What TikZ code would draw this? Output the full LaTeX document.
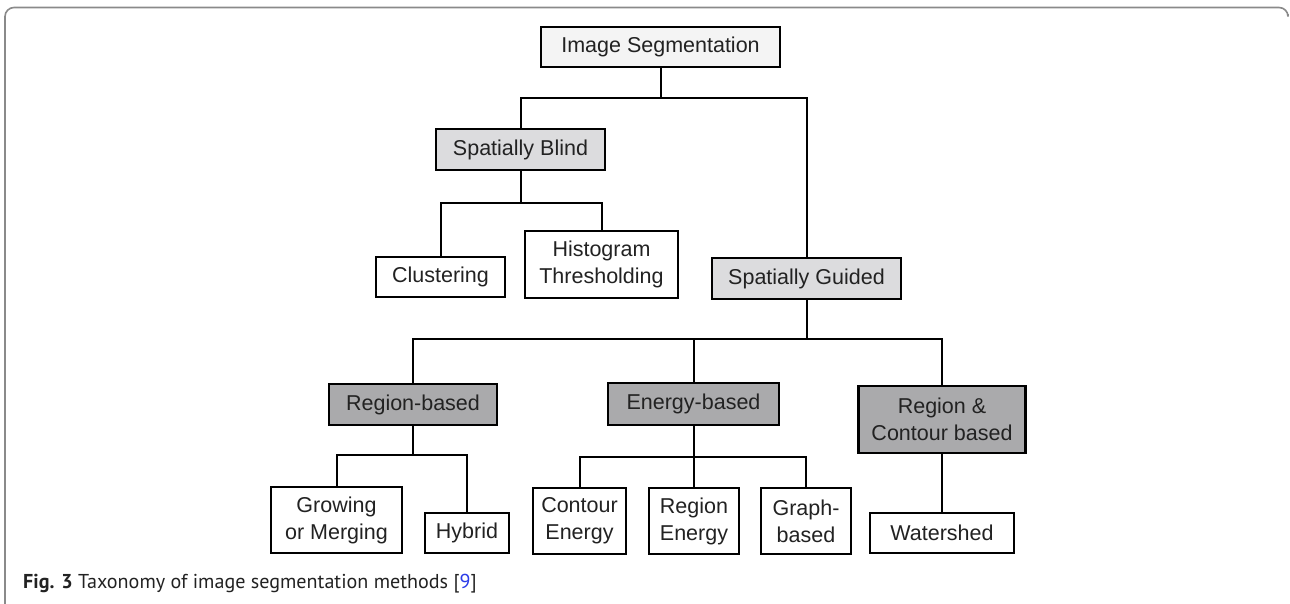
\documentclass[tikz,border=0pt]{standalone}
\usepackage{fontspec}
\setmainfont{Liberation Sans}
\newfontfamily\capfont{PT Sans}
\definecolor{txt}{HTML}{222222}
\definecolor{topfill}{HTML}{F4F4F4}
\definecolor{lightfill}{HTML}{DCDCDE}
\definecolor{darkfill}{HTML}{AAAAAC}
\definecolor{framegray}{HTML}{8A8A8A}
\definecolor{linkblue}{HTML}{2B3BE8}
\begin{document}
\begin{tikzpicture}[x=1pt,y=-1pt,
  box/.style={draw=black, line width=2.6pt, fill=white, inner sep=0pt, align=center,
    text=txt, font=\fontsize{21.5}{27}\selectfont},
  topbox/.style={box, fill=topfill},
  lbox/.style={box, fill=lightfill},
  dbox/.style={box, fill=darkfill},
  conn/.style={draw=black, line width=2pt}]
\useasboundingbox (0,0) rectangle (1290,603);
\draw[framegray, line width=1.6pt, rounded corners=9pt] (5,610) -- (5,7.5) -- (1288,7.5) -- (1288,14);

\node[topbox, minimum width=239pt, minimum height=40pt] (is) at (660.5,47) {Image Segmentation};
\node[lbox, minimum width=169pt, minimum height=41pt] (sb) at (520.5,149.5) {Spatially Blind};
\node[box, minimum width=129pt, minimum height=40pt] (cl) at (440.5,277) {Clustering};
\node[box, minimum width=153pt, minimum height=67pt] (ht) at (601.5,264.5) {Histogram\\Thresholding};
\node[lbox, minimum width=189pt, minimum height=41pt] (sg) at (806.5,278.5) {Spatially Guided};
\node[dbox, minimum width=168pt, minimum height=41pt] (rb) at (413,404.5) {Region-based};
\node[dbox, minimum width=171pt, minimum height=42pt] (eb) at (693.5,404) {Energy-based};
\node[dbox, minimum width=167pt, minimum height=67pt] (rc) at (942,419.5) {Region \&\\Contour based};
\node[box, minimum width=131pt, minimum height=66pt] (gm) at (336.5,520) {Growing\\or Merging};
\node[box, minimum width=84pt, minimum height=40pt] (hy) at (467,533) {Hybrid};
\node[box, minimum width=93pt, minimum height=66pt] (ce) at (579.5,521) {Contour\\Energy};
\node[box, minimum width=90pt, minimum height=66pt] (re) at (694,521) {Region\\Energy};
\node[box, minimum width=90pt, minimum height=66pt] (gb) at (806,521) {Graph-\\based};
\node[box, minimum width=144pt, minimum height=40pt] (ws) at (942,533) {Watershed};

\coordinate (b1) at (660.5,98);
\coordinate (b2) at (520.5,203);
\coordinate (b3) at (806.5,339);
\coordinate (b4) at (413,455);
\coordinate (b5) at (693.5,457);

\draw[conn] (is.south) -- (b1);
\draw[conn] (sb.north) |- (b1) -| (sg.north);
\draw[conn] (sb.south) -- (b2);
\draw[conn] (cl.north) |- (b2) -| (ht.north);
\draw[conn] (sg.south) -- (b3);
\draw[conn] (rb.north) |- (b3) -| (rc.north);
\draw[conn] (eb.north) -- (eb.north |- b3);
\draw[conn] (rb.south) -- (b4);
\draw[conn] (gm.north) |- (b4) -| (hy.north);
\draw[conn] (eb.south) -- (b5);
\draw[conn] (ce.north) |- (b5) -| (gb.north);
\draw[conn] (re.north) -- (re.north |- b5);
\draw[conn] (rc.south) -- (ws.north);

\node[anchor=base west, inner sep=0pt, text=txt, font=\capfont\fontsize{20.1}{24}\selectfont] (cap) at (23,588)
  {\textbf{Fig. 3} Taxonomy of image segmentation methods [\textcolor{linkblue}{9}]};
\end{tikzpicture}
\end{document}
